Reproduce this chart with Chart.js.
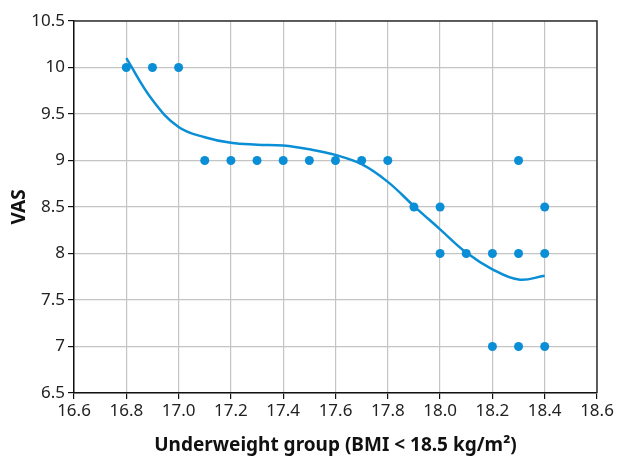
<!DOCTYPE html>
<html>
<head>
<meta charset="utf-8">
<script src="https://cdn.jsdelivr.net/npm/chart.js@4"></script>
<style>
  html, body { margin: 0; padding: 0; background: #fff; }
  #wrap { width: 619px; height: 461px; }
</style>
</head>
<body>
<div id="wrap"><canvas id="vas-chart" width="619" height="461"></canvas></div>
<script>
// pontos observados (BMI, VAS)
const bmi = [16.8, 16.9, 17.0, 17.1, 17.2, 17.3, 17.4, 17.5, 17.6, 17.7, 17.8, 18.3,
             17.9, 18.0, 18.4, 18.0, 18.1, 18.2, 18.3, 18.4, 18.2, 18.3, 18.4];
const vas = [10, 10, 10, 9, 9, 9, 9, 9, 9, 9, 9, 9,
             8.5, 8.5, 8.5, 8, 8, 8, 8, 8, 7, 7, 7];

// linha de tendência
const trendX = [16.8, 16.9, 17.0, 17.1, 17.2, 17.3, 17.4, 17.5, 17.6, 17.7, 17.8, 17.9, 18.0, 18.1, 18.2, 18.3, 18.4];
const trendY = [10.10, 9.65, 9.36, 9.25, 9.19, 9.17, 9.16, 9.12, 9.06, 8.96, 8.77, 8.51, 8.26, 8.01, 7.83, 7.72, 7.76];

const xTicks = [16.6, 16.8, 17.0, 17.2, 17.4, 17.6, 17.8, 18.0, 18.2, 18.4, 18.6];
const yTicks = [6.5, 7, 7.5, 8, 8.5, 9, 9.5, 10, 10.5];

const blue = '#0a8ed6';
const font = "'Noto Sans', 'Open Sans', sans-serif";

const frame = {
  id: 'frame',
  afterDraw(chart) {
    const { ctx, chartArea: a } = chart;
    ctx.save();
    ctx.strokeStyle = '#333';
    ctx.lineWidth = 1.5;
    ctx.beginPath();
    ctx.moveTo(a.left, a.top);
    ctx.lineTo(a.right, a.top);
    ctx.lineTo(a.right, a.bottom);
    ctx.stroke();
    ctx.restore();
  }
};

new Chart(document.getElementById('vas-chart'), {
  type: 'scatter',
  data: {
    datasets: [
      {
        label: 'Tendência',
        type: 'line',
        data: trendX.map((x, i) => ({ x, y: trendY[i] })),
        borderColor: blue,
        borderWidth: 2.5,
        pointRadius: 0,
        fill: false,
        tension: 0.4,
        order: 2
      },
      {
        label: 'VAS',
        data: bmi.map((x, i) => ({ x, y: vas[i] })),
        backgroundColor: blue,
        borderColor: blue,
        pointRadius: 4.5,
        pointBorderWidth: 0,
        order: 1
      }
    ]
  },
  options: {
    responsive: false,
    animation: false,
    layout: { padding: { top: 21, right: 22, left: 8, bottom: 0 } },
    plugins: { legend: { display: false }, tooltip: { enabled: false } },
    scales: {
      x: {
        type: 'linear',
        min: 16.6,
        max: 18.6,
        afterBuildTicks: s => { s.ticks = xTicks.map(v => ({ value: v })); },
        afterFit: s => { s.height = 68; },
        grid: { color: '#c4c4c4', lineWidth: 1.2, tickLength: 6, tickColor: '#111' },
        border: { color: '#111', width: 1.5 },
        ticks: {
          color: '#222',
          padding: 2,
          font: { family: font, size: 17 },
          callback: v => v.toFixed(1)
        },
        title: {
          display: true,
          text: 'Underweight group (BMI < 18.5 kg/m²)',
          color: '#111',
          padding: { top: 5 },
          font: { family: font, size: 19, weight: 'bold' }
        }
      },
      y: {
        min: 6.5,
        max: 10.5,
        afterBuildTicks: s => { s.ticks = yTicks.map(v => ({ value: v })); },
        afterFit: s => { s.width = 66; },
        grid: { color: '#c4c4c4', lineWidth: 1.2, tickLength: 6, tickColor: '#111' },
        border: { color: '#111', width: 1.5 },
        ticks: {
          color: '#222',
          padding: 3,
          font: { family: font, size: 17 },
          callback: v => String(v)
        },
        title: {
          display: true,
          text: 'VAS',
          color: '#111',
          padding: 0,
          font: { family: font, size: 19, weight: 'bold' }
        }
      }
    }
  },
  plugins: [frame]
});
</script>
</body>
</html>
